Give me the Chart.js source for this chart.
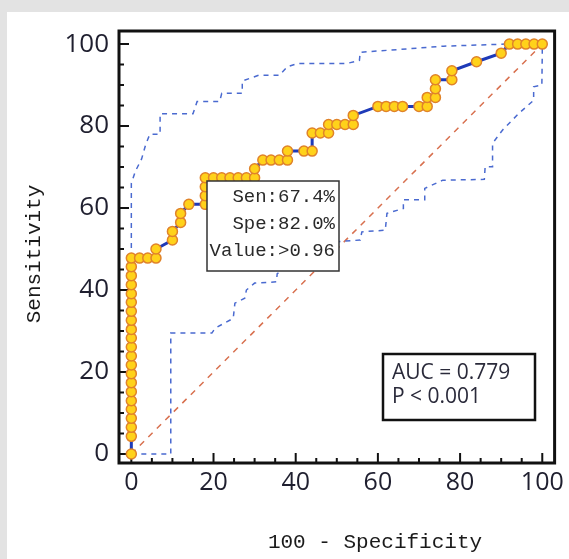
<!DOCTYPE html>
<html>
<head>
<meta charset="utf-8">
<script src="https://cdn.jsdelivr.net/npm/chart.js@4"></script>
<style>
html, body { margin: 0; padding: 0; background: #e3e3e3; }
#panel { position: absolute; left: 7px; top: 12px; width: 562px; height: 547px; background: #fff; }
#wrap { position: absolute; left: 0; top: 0; width: 569px; height: 559px; }
</style>
</head>
<body>
<div id="panel"></div>
<div id="wrap"><canvas id="roc" width="569" height="559"></canvas></div>
<script>
// ROC curve (100 - specificity vs sensitivity)
const rocX = [0, 0, 0, 0, 0, 0, 0, 0, 0, 0, 0, 0, 0, 0, 0, 0, 0, 0, 0, 0, 0, 0,
  2, 4, 6, 6, 10, 10, 12, 12, 14, 18, 18, 18, 18, 20, 22, 24, 26, 28, 30, 30,
  32, 34, 36, 38, 38, 42, 44, 44, 46, 48, 48, 50, 52, 54, 54, 60, 62, 64, 66,
  70, 72, 72, 74, 74, 74, 78, 78, 84, 90, 92, 94, 96, 98, 100];
const rocY = [0, 4.3, 6.5, 8.7, 10.9, 13.0, 15.2, 17.4, 19.6, 21.7, 23.9, 26.1,
  28.3, 30.4, 32.6, 34.8, 37.0, 39.1, 41.3, 43.5, 45.7, 47.8,
  47.8, 47.8, 47.8, 50.0, 52.2, 54.3, 56.5, 58.7, 60.9, 60.9, 63.0, 65.2, 67.4,
  67.4, 67.4, 67.4, 67.4, 67.4, 67.4, 69.6, 71.7, 71.7, 71.7, 71.7, 73.9, 73.9,
  73.9, 78.3, 78.3, 78.3, 80.4, 80.4, 80.4, 80.4, 82.6, 84.8, 84.8, 84.8, 84.8,
  84.8, 84.8, 87.0, 87.0, 89.1, 91.3, 91.3, 93.5, 95.7, 97.8, 100, 100, 100, 100, 100];

// 95% confidence bounds
const upperX = [0, 0, 1, 2.5, 3.5, 4.5, 7, 7, 15, 16, 21.5, 22, 27, 27, 31, 36, 38,
  40.5, 52.5, 55.5, 55.7, 76, 91, 100];
const upperY = [47.8, 66, 69, 72, 75.5, 78, 78, 83, 83, 86, 86, 88, 88, 91, 92.4,
  92.4, 94.5, 95.3, 95.3, 96, 98, 99.5, 100, 100];
const lowerX = [0, 9.6, 9.6, 19.6, 20.4, 24.8, 25.2, 27.6, 28, 30, 35.3, 35.5, 40,
  45, 50, 55.7, 56.1, 61.8, 62.2, 66.2, 66.2, 71.4, 71.4, 75.8, 85.9, 86.1, 87.9,
  87.9, 90.3, 94.3, 97.9, 97.9, 99.9, 100, 100];
const lowerY = [0, 0, 29.5, 29.5, 30.7, 33.1, 36.8, 38, 40, 41.7, 42, 44, 47, 50,
  51.8, 52.2, 54.2, 54.6, 58.7, 59.9, 62, 62, 64.8, 66.8, 67, 70.1, 70.1, 75.8,
  79, 83.1, 86.3, 89.6, 90, 97.7, 100];

const diagX = [0, 100];
const diagY = [0, 100];
const axisTicks = [0, 20, 40, 60, 80, 100];

const cutoffLines = ['Sen:67.4%', 'Spe:82.0%', 'Value:>0.96'];
const aucLines = ['AUC = 0.779', 'P < 0.001'];

const pts = (xs, ys) => xs.map((v, i) => ({ x: v, y: ys[i] }));

const frame = {
  id: 'frame',
  beforeDatasetsDraw(chart) {
    const { ctx, chartArea: a, scales: { x, y } } = chart;
    ctx.save();
    ctx.strokeStyle = '#111';
    ctx.lineWidth = 2;
    for (let v = 0; v <= 100; v += 5) {
      const len = v % 20 === 0 ? 10 : 5;
      const px = x.getPixelForValue(v);
      const py = y.getPixelForValue(v);
      ctx.beginPath();
      ctx.moveTo(px, a.bottom);
      ctx.lineTo(px, a.bottom - len);
      ctx.moveTo(a.left, py);
      ctx.lineTo(a.left + len, py);
      ctx.stroke();
    }
    ctx.lineWidth = 3;
    ctx.strokeRect(a.left, a.top, a.right - a.left, a.bottom - a.top);
    ctx.restore();
  },
  afterDatasetsDraw(chart) {
    const ctx = chart.ctx;
    ctx.save();
    // axis titles
    ctx.fillStyle = '#1a1a1a';
    ctx.font = "21px 'Liberation Mono'";
    ctx.textAlign = 'center';
    ctx.textBaseline = 'middle';
    ctx.fillText('100 - Specificity', 375, 542);
    ctx.translate(34, 254);
    ctx.rotate(-Math.PI / 2);
    ctx.fillText('Sensitivity', 0, 0);
    ctx.setTransform(1, 0, 0, 1, 0, 0);

    // cutoff box
    ctx.fillStyle = '#fff';
    ctx.fillRect(207, 181, 132, 90);
    ctx.strokeStyle = '#333';
    ctx.lineWidth = 1.5;
    ctx.strokeRect(207, 181, 132, 90);
    ctx.fillStyle = '#2a2a2a';
    ctx.font = "19px 'Liberation Mono'";
    ctx.textAlign = 'right';
    cutoffLines.forEach((t, i) => ctx.fillText(t, 335, 197 + i * 27));

    // AUC box
    ctx.fillStyle = '#fff';
    ctx.fillRect(383, 354, 152, 66);
    ctx.strokeStyle = '#111';
    ctx.lineWidth = 2.5;
    ctx.strokeRect(383, 354, 152, 66);
    ctx.fillStyle = '#2a2a3a';
    ctx.font = "21px 'Open Sans'";
    ctx.textAlign = 'left';
    aucLines.forEach((t, i) => ctx.fillText(t, 392, 373 + i * 24));
    ctx.restore();
  }
};

new Chart(document.getElementById('roc'), {
  type: 'scatter',
  data: {
    datasets: [
      {
        data: pts(rocX, rocY),
        showLine: true,
        borderColor: '#1e3ab8',
        borderWidth: 3,
        pointRadius: 5,
        pointBackgroundColor: '#ffd21a',
        pointBorderColor: '#e0832a',
        pointBorderWidth: 1.5
      },
      {
        data: pts(upperX, upperY),
        showLine: true,
        borderColor: '#4a6ad0',
        borderWidth: 1.5,
        borderDash: [5, 5],
        pointRadius: 0
      },
      {
        data: pts(lowerX, lowerY),
        showLine: true,
        borderColor: '#4a6ad0',
        borderWidth: 1.5,
        borderDash: [5, 5],
        pointRadius: 0
      },
      {
        data: pts(diagX, diagY),
        showLine: true,
        borderColor: '#d8704f',
        borderWidth: 1.5,
        borderDash: [6, 6],
        pointRadius: 0
      }
    ]
  },
  options: {
    responsive: false,
    animation: false,
    layout: { padding: { top: 31, right: 10, left: 0, bottom: 0 } },
    plugins: { legend: { display: false }, tooltip: { enabled: false } },
    scales: {
      x: {
        type: 'linear',
        min: -3,
        max: 103,
        afterBuildTicks: s => { s.ticks = axisTicks.map(v => ({ value: v })); },
        afterFit: s => { s.height = 96; },
        grid: { display: false, drawTicks: false },
        border: { display: false },
        ticks: { padding: 5, color: '#1f1f2f', font: { family: 'Open Sans', size: 25 }, maxRotation: 0 }
      },
      y: {
        type: 'linear',
        min: -2.2,
        max: 103.2,
        afterBuildTicks: s => { s.ticks = axisTicks.map(v => ({ value: v })); },
        afterFit: s => { s.width = 119; },
        grid: { display: false, drawTicks: false },
        border: { display: false },
        ticks: { padding: 10, color: '#1f1f2f', font: { family: 'Open Sans', size: 26 } }
      }
    }
  },
  plugins: [frame]
});
</script>
</body>
</html>
